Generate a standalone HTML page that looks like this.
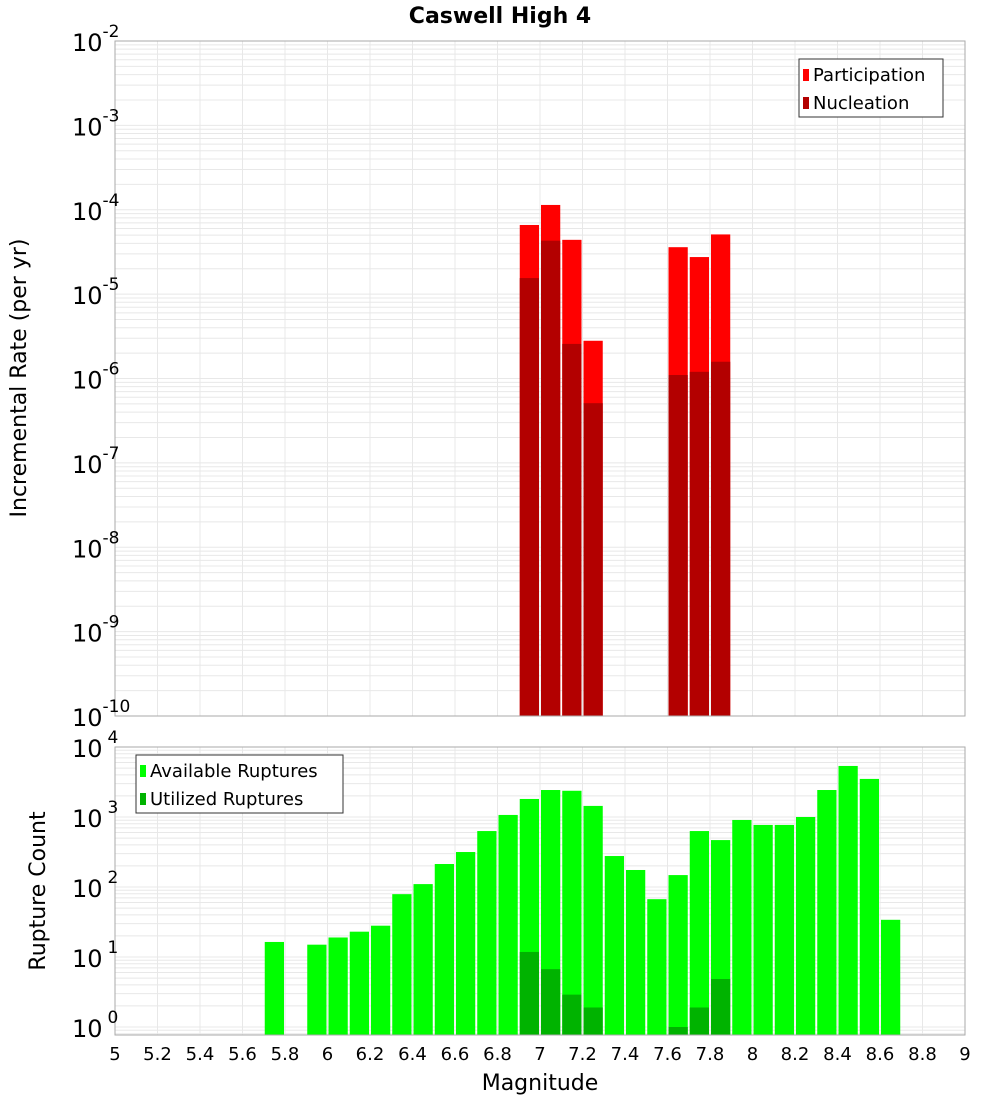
<!DOCTYPE html>
<html><head><meta charset="utf-8"><style>
html,body{margin:0;padding:0;background:#fff;}
svg{display:block;font-family:"DejaVu Sans","Liberation Sans",sans-serif;}
</style></head><body>
<svg id="chart" width="1000" height="1100" xmlns="http://www.w3.org/2000/svg">
<text x="500" y="23" text-anchor="middle" font-size="22" font-weight="bold">Caswell High 4</text>
<g id="topPanel"></g>
<g id="botPanel"></g>
<text transform="translate(26,378) rotate(-90)" text-anchor="middle" font-size="22">Incremental Rate (per yr)</text>
<text transform="translate(45,891) rotate(-90)" text-anchor="middle" font-size="22">Rupture Count</text>
<text x="540" y="1090" text-anchor="middle" font-size="22">Magnitude</text>
</svg>
<script>
const topMags = [6.95, 7.05, 7.15, 7.25, 7.65, 7.75, 7.85];
const participation = [6.6e-5, 1.14e-4, 4.4e-5, 2.8e-6, 3.6e-5, 2.75e-5, 5.1e-5];
const nucleation = [1.55e-5, 4.3e-5, 2.57e-6, 5.1e-7, 1.1e-6, 1.2e-6, 1.58e-6];
const availMags = [5.75,5.95,6.05,6.15,6.25,6.35,6.45,6.55,6.65,6.75,6.85,6.95,7.05,7.15,7.25,7.35,7.45,7.55,7.65,7.75,7.85,7.95,8.05,8.15,8.25,8.35,8.45,8.55,8.65];
const available = [16.4,15,19,23,28,79,110,213,316,630,1070,1810,2430,2370,1440,277,175,67,148,630,468,907,770,770,1000,2430,5360,3500,34];
const utilMags = [6.95,7.05,7.15,7.25,7.65,7.75,7.85];
const utilized = [11.8,6.7,2.9,1.9,1.0,1.9,4.85];
const xTicks = [5,5.2,5.4,5.6,5.8,6,6.2,6.4,6.6,6.8,7,7.2,7.4,7.6,7.8,8,8.2,8.4,8.6,8.8,9];
const topExps = [-2,-3,-4,-5,-6,-7,-8,-9,-10];
const botExps = [4,3,2,1,0];

const NS="http://www.w3.org/2000/svg";
const X0=115,X1=965;
const xs=m=>X0+(m-5)/4*(X1-X0);
const tT=41,tB=716, yTop=v=>tT+(-2-Math.log10(v))*(tB-tT)/8;
const bT=747,bB=1035, yBot=v=>bT+(4-Math.log10(v))*70;
function el(tag,attrs,parent){const e=document.createElementNS(NS,tag);for(const k in attrs)e.setAttribute(k,attrs[k]);parent.appendChild(e);return e;}
const topG=document.getElementById('topPanel'), botG=document.getElementById('botPanel');

function grid(g,y0,y1,yf,eMin,eMax){
  for(let e=eMin;e<eMax;e++)for(let k=1;k<10;k++){const y=yf(k*Math.pow(10,e));if(y<y0-0.5||y>y1+0.5)continue;
    const l=el('line',{x1:X0,x2:X1,y1:y,y2:y,stroke:'#e8e8e8','stroke-width':1},g);
    
    }
  xTicks.forEach(t=>{const l=el('line',{x1:xs(t),x2:xs(t),y1:y0,y2:y1,stroke:'#e8e8e8','stroke-width':1},g);
    
    });
}
grid(topG,tT,tB,yTop,-10,-2);
grid(botG,bT,bB,yBot,-1,4);

function bar(g,m,v,yf,yb,fill,name){
  const x=xs(m-0.05)+1,w=xs(m+0.05)-xs(m-0.05)-2,y=Math.max(yf(v),0);
  const r=el('rect',{x:x,y:y,width:w,height:yb-y,fill:fill},g);
  
  
}
topMags.forEach((m,i)=>bar(topG,m,participation[i],yTop,tB,'#ff0000','participation-bar'));
topMags.forEach((m,i)=>bar(topG,m,nucleation[i],yTop,tB,'#b30000','nucleation-bar'));
availMags.forEach((m,i)=>bar(botG,m,available[i],yBot,bB,'#00ff00','available-bar'));
utilMags.forEach((m,i)=>bar(botG,m,utilized[i],yBot,bB,'#00b300','utilized-bar'));

[[topG,tT,tB],[botG,bT,bB]].forEach(([g,a,b])=>{const r=el('rect',{x:X0,y:a,width:X1-X0,height:b-a,fill:'none',stroke:'#aaa','stroke-width':1},g);
  
  });

topExps.forEach(e=>{const t=el('text',{x:72,y:yTop(Math.pow(10,e))+10,'font-size':24},topG);
  
  
  t.textContent='10';const s=el('tspan',{dy:-14,'font-size':17},t);s.textContent=String(e);});
botExps.forEach(e=>{const y=(e===0)?1027:yBot(Math.pow(10,e));const t=el('text',{x:72,y:y+10,'font-size':24},botG);
  
  
  t.textContent='10';const s=el('tspan',{dx:5,dy:-14,'font-size':17},t);s.textContent=String(e);});
xTicks.forEach(v=>{const t=el('text',{x:xs(v),y:1060,'text-anchor':'middle','font-size':18},botG);
  
  
  t.textContent=String(v);});

function legend(g,x,y,w,items){
  const r=el('rect',{x:x,y:y,width:w,height:58,fill:'#fff',stroke:'#333','stroke-width':1},g);
  
  
  items.forEach(([c,l],i)=>{const sw=el('rect',{x:x+4,y:y+10+i*28,width:6,height:12,fill:c},g);
    
    
    const t=el('text',{x:x+14,y:y+22+i*28,'font-size':18},g);
    
    
    t.textContent=l;});
}
legend(topG,799,59,144,[['#ff0000','Participation'],['#b30000','Nucleation']]);
legend(botG,136,755,207,[['#00ff00','Available Ruptures'],['#00b300','Utilized Ruptures']]);
</script>
</body></html>
